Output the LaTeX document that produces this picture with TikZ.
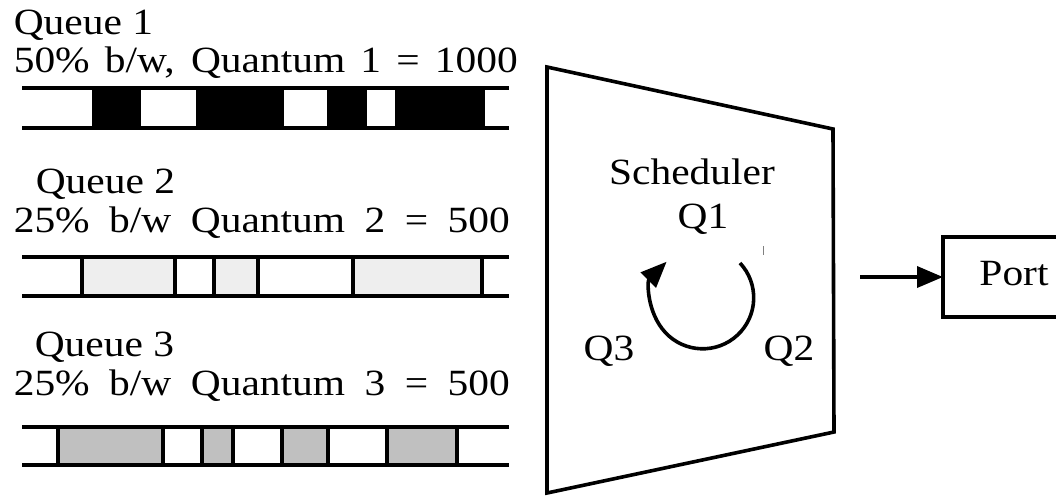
\documentclass[tikz,border=0pt]{standalone}
\usepackage{fontspec}
\setmainfont{Liberation Serif}[FakeStretch=1.12]
\usetikzlibrary{arrows.meta}
\definecolor{slotLight}{HTML}{EEEEEE}
\definecolor{slotGrey}{HTML}{C0C0C0}

\begin{document}
\begin{tikzpicture}[x=0.5pt,y=-0.5pt,line width=1.8pt,>={Triangle[length=13pt,width=10.5pt]},
    lbl/.style={inner sep=0pt,anchor=base west,font=\fontsize{18.5}{22}\selectfont},
    ctr/.style={lbl,anchor=base}]
    \useasboundingbox (0,0) rectangle (1056,495);
    % queue 1
    \node[lbl] (q1) at (12,34) {Queue 1};
    \node[lbl] (q1bw) at (12,72) {\makebox[252pt][s]{50\% b/w, Quantum 1 = 1000}};
    \foreach \a/\b in {92/141,196/284,327/367,395/485}
      \fill (\a,88) rectangle (\b,128);
    \draw (22,88)--(509,88) (22,128)--(509,128);
    % queue 2
    \node[lbl] (q2) at (34,193) {Queue 2};
    \node[lbl] (q2bw) at (12,232) {\makebox[248pt][s]{25\% b/w Quantum 2 = 500}};
    \foreach \a/\b in {82/175,214/258,353/482}
      \draw[fill=slotLight] (\a,257) rectangle (\b,296);
    \draw (22,257)--(509,257) (22,296)--(509,296);
    % queue 3
    \node[lbl] (q3) at (33,356) {Queue 3};
    \node[lbl] (q3bw) at (12,395) {\makebox[248pt][s]{25\% b/w Quantum 3 = 500}};
    \foreach \a/\b in {58/163,202/233,282/328,387/457}
      \draw[fill=slotGrey] (\a,427) rectangle (\b,465);
    \draw (22,427)--(509,427) (22,465)--(509,465);
    % scheduler
    \draw (547,67)--(833,129)--(834,432)--(547,493)--cycle;
    \node[ctr] (sched) at (692,184) {Scheduler};
    \node[ctr] (sq1) at (703,228) {Q1};
    \node[ctr] (sq3) at (609,360) {Q3};
    \node[ctr] (sq2) at (789,360) {Q2};
    \draw[->] (740,263) arc[start angle=-43,end angle=225,radius=51];
    \draw[gray,line width=0.5pt] (763,246)--(763,255);
    % output port, open at the right border
    \node[ctr] (port) at (1014,285) {Port};
    \coordinate (pnw) at (943,237);
    \coordinate (psw) at (943,317);
    \draw (1056,237) -- (pnw) -- (psw) -- (1056,317);
    \coordinate (sout) at (860,277);
    \draw[->] (sout)--(943,277);
\end{tikzpicture}
\end{document}
